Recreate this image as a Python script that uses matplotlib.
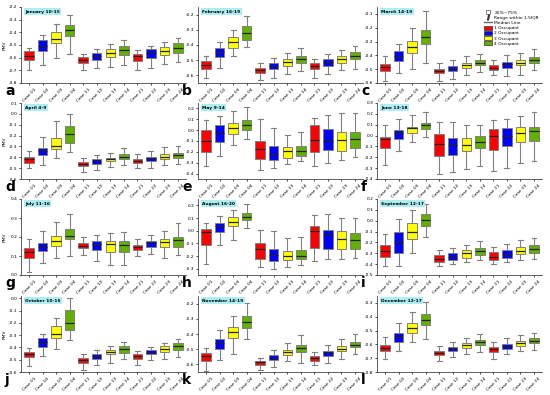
import matplotlib.pyplot as plt
from matplotlib.lines import Line2D
from matplotlib.patches import Patch
from matplotlib.ticker import MultipleLocator, FormatStrFormatter

cases = ["Case 01", "Case 02", "Case 03", "Case 04",
         "Case 11", "Case 12", "Case 13", "Case 14",
         "Case 21", "Case 22", "Case 23", "Case 24"]
periods = ["January 10-15", "February 16-19", "March 14-19",
           "April 4-9", "May 9-14", "June 13-18",
           "July 11-16", "August 16-20", "September 12-17",
           "October 10-15", "November 14-19", "December 12-17"]
letters = ["a", "b", "c", "d", "e", "f", "g", "h", "i", "j", "k", "l"]
occupants = ["1 Occupant", "2 Occupant", "3 Occupant", "4 Occupant"]
box_colors = ["#ff0000", "#0000ff", "#ffff00", "#62b000"]

# one row per period, one column per case
whis_hi = [
    [-0.52, -0.42, -0.335, -0.26, -0.57, -0.53, -0.49, -0.46, -0.54, -0.505, -0.475, -0.445],
    [-0.474, -0.38, -0.30, -0.21, -0.517, -0.485, -0.45, -0.423, -0.49, -0.458, -0.43, -0.404],
    [-0.405, -0.315, -0.205, -0.08, -0.454, -0.43, -0.405, -0.393, -0.43, -0.40, -0.38, -0.356],
    [-0.338, -0.21, -0.068, 0.0, -0.404, -0.383, -0.36, -0.314, -0.374, -0.338, -0.308, -0.30],
    [0.09, 0.13, 0.176, 0.21, 0.106, 0.024, -0.045, -0.015, 0.115, 0.14, 0.16, 0.16],
    [0.10, 0.15, 0.186, 0.22, 0.126, 0.126, 0.10, 0.10, 0.14, 0.156, 0.18, 0.216],
    [0.19, 0.23, 0.28, 0.323, 0.20, 0.213, 0.22, 0.225, 0.19, 0.21, 0.23, 0.274],
    [0.06, 0.115, 0.16, 0.21, 0.008, -0.005, -0.06, -0.05, 0.123, 0.128, 0.097, 0.097],
    [-0.12, 0.02, 0.10, 0.15, -0.27, -0.25, -0.22, -0.19, -0.24, -0.21, -0.18, -0.16],
    [-0.405, -0.29, -0.163, 0.0, -0.457, -0.42, -0.39, -0.357, -0.43, -0.40, -0.363, -0.33],
    [-0.49, -0.375, -0.28, -0.193, -0.555, -0.503, -0.458, -0.407, -0.52, -0.47, -0.43, -0.398],
    [-0.55, -0.446, -0.366, -0.295, -0.61, -0.58, -0.556, -0.527, -0.58, -0.556, -0.532, -0.515],
]
q3 = [
    [-0.55, -0.46, -0.40, -0.34, -0.595, -0.565, -0.535, -0.51, -0.57, -0.535, -0.515, -0.485],
    [-0.506, -0.42, -0.347, -0.277, -0.55, -0.517, -0.495, -0.474, -0.517, -0.495, -0.47, -0.447],
    [-0.466, -0.368, -0.295, -0.22, -0.497, -0.478, -0.454, -0.437, -0.473, -0.45, -0.437, -0.412],
    [-0.40, -0.314, -0.224, -0.113, -0.443, -0.42, -0.404, -0.374, -0.413, -0.40, -0.374, -0.36],
    [0.0, 0.048, 0.07, 0.094, -0.097, -0.142, -0.157, -0.148, 0.048, 0.01, -0.02, -0.015],
    [-0.01, 0.05, 0.08, 0.12, 0.012, -0.018, -0.018, 0.0, 0.057, 0.072, 0.08, 0.08],
    [0.143, 0.17, 0.204, 0.244, 0.17, 0.18, 0.18, 0.178, 0.16, 0.178, 0.187, 0.20],
    [0.013, 0.064, 0.105, 0.136, -0.095, -0.141, -0.159, -0.151, 0.033, 0.008, -0.005, -0.018],
    [-0.22, -0.10, -0.02, 0.06, -0.32, -0.30, -0.27, -0.25, -0.29, -0.27, -0.24, -0.22],
    [-0.434, -0.323, -0.228, -0.094, -0.486, -0.457, -0.423, -0.39, -0.457, -0.423, -0.39, -0.366],
    [-0.526, -0.436, -0.353, -0.283, -0.575, -0.54, -0.503, -0.47, -0.544, -0.51, -0.48, -0.454],
    [-0.605, -0.52, -0.446, -0.38, -0.65, -0.617, -0.593, -0.568, -0.622, -0.60, -0.575, -0.556],
]
medians = [
    [-0.59, -0.505, -0.45, -0.385, -0.615, -0.59, -0.565, -0.54, -0.59, -0.565, -0.545, -0.525],
    [-0.532, -0.445, -0.38, -0.32, -0.565, -0.54, -0.51, -0.49, -0.535, -0.51, -0.49, -0.47],
    [-0.483, -0.405, -0.34, -0.27, -0.515, -0.495, -0.473, -0.454, -0.49, -0.46, -0.454, -0.434],
    [-0.42, -0.345, -0.30, -0.188, -0.458, -0.435, -0.42, -0.40, -0.43, -0.413, -0.40, -0.38],
    [-0.097, -0.03, 0.024, 0.048, -0.173, -0.218, -0.194, -0.188, -0.09, -0.10, -0.09, -0.08],
    [-0.03, 0.02, 0.066, 0.10, -0.078, -0.09, -0.084, -0.055, -0.003, -0.003, 0.027, 0.042],
    [0.12, 0.15, 0.178, 0.204, 0.155, 0.164, 0.164, 0.16, 0.148, 0.17, 0.175, 0.183],
    [-0.013, 0.04, 0.067, 0.11, -0.146, -0.192, -0.197, -0.197, -0.005, -0.038, -0.064, -0.074],
    [-0.28, -0.20, -0.10, 0.01, -0.35, -0.33, -0.30, -0.28, -0.33, -0.31, -0.28, -0.26],
    [-0.45, -0.357, -0.286, -0.20, -0.506, -0.47, -0.437, -0.414, -0.47, -0.437, -0.414, -0.39],
    [-0.548, -0.458, -0.387, -0.324, -0.587, -0.555, -0.52, -0.492, -0.555, -0.526, -0.497, -0.47],
    [-0.624, -0.55, -0.483, -0.422, -0.66, -0.634, -0.605, -0.585, -0.636, -0.612, -0.593, -0.573],
]
q1 = [
    [-0.62, -0.55, -0.485, -0.43, -0.64, -0.62, -0.595, -0.575, -0.63, -0.60, -0.575, -0.56],
    [-0.56, -0.48, -0.42, -0.364, -0.587, -0.56, -0.535, -0.517, -0.557, -0.535, -0.517, -0.49],
    [-0.51, -0.44, -0.385, -0.315, -0.53, -0.515, -0.49, -0.473, -0.507, -0.49, -0.473, -0.454],
    [-0.45, -0.383, -0.323, -0.27, -0.48, -0.458, -0.435, -0.42, -0.45, -0.435, -0.42, -0.404],
    [-0.203, -0.112, -0.036, 0.0, -0.27, -0.273, -0.258, -0.24, -0.203, -0.18, -0.188, -0.164],
    [-0.115, -0.03, 0.02, 0.057, -0.19, -0.175, -0.145, -0.115, -0.13, -0.10, -0.055, -0.048],
    [0.09, 0.125, 0.152, 0.187, 0.143, 0.134, 0.122, 0.122, 0.134, 0.148, 0.146, 0.148],
    [-0.115, -0.01, 0.033, 0.085, -0.223, -0.238, -0.23, -0.223, -0.133, -0.141, -0.141, -0.141],
    [-0.33, -0.30, -0.17, -0.05, -0.38, -0.36, -0.34, -0.32, -0.36, -0.34, -0.31, -0.30],
    [-0.477, -0.394, -0.323, -0.257, -0.523, -0.494, -0.457, -0.443, -0.494, -0.457, -0.437, -0.42],
    [-0.575, -0.497, -0.425, -0.362, -0.605, -0.57, -0.537, -0.52, -0.575, -0.544, -0.515, -0.488],
    [-0.65, -0.58, -0.515, -0.458, -0.678, -0.65, -0.624, -0.605, -0.654, -0.63, -0.61, -0.593],
]
whis_lo = [
    [-0.70, -0.655, -0.60, -0.57, -0.70, -0.68, -0.67, -0.655, -0.70, -0.68, -0.65, -0.635],
    [-0.62, -0.55, -0.474, -0.414, -0.633, -0.615, -0.594, -0.572, -0.62, -0.594, -0.567, -0.557],
    [-0.583, -0.53, -0.497, -0.454, -0.588, -0.57, -0.544, -0.52, -0.54, -0.55, -0.54, -0.507],
    [-0.50, -0.47, -0.41, -0.35, -0.54, -0.515, -0.49, -0.47, -0.50, -0.495, -0.47, -0.458],
    [-0.333, -0.24, -0.136, -0.08, -0.37, -0.345, -0.315, -0.285, -0.33, -0.30, -0.273, -0.25],
    [-0.27, -0.145, -0.055, -0.015, -0.355, -0.34, -0.31, -0.28, -0.33, -0.30, -0.25, -0.235],
    [0.015, 0.064, 0.087, 0.10, 0.105, 0.073, 0.055, 0.055, 0.10, 0.108, 0.09, 0.103],
    [-0.264, -0.115, -0.07, 0.02, -0.287, -0.30, -0.287, -0.27, -0.236, -0.223, -0.223, -0.215],
    [-0.42, -0.42, -0.30, -0.15, -0.42, -0.40, -0.38, -0.36, -0.40, -0.38, -0.36, -0.35],
    [-0.55, -0.466, -0.41, -0.343, -0.58, -0.543, -0.523, -0.494, -0.543, -0.506, -0.494, -0.48],
    [-0.643, -0.57, -0.533, -0.43, -0.638, -0.616, -0.575, -0.59, -0.605, -0.593, -0.564, -0.533],
    [-0.707, -0.65, -0.585, -0.563, -0.72, -0.695, -0.673, -0.654, -0.707, -0.673, -0.65, -0.64],
]
y_ranges = [(-0.8, -0.2), (-0.65, -0.15), (-0.6, -0.05),
            (-0.6, 0.1), (-0.45, 0.25), (-0.4, 0.3),
            (0.0, 0.4), (-0.35, 0.25), (-0.5, 0.2),
            (-0.6, 0.02), (-0.65, -0.15), (-0.8, -0.25)]

W, H = 550, 395
fig = plt.figure(figsize=(5.5, 3.95), dpi=100)
col_left = [21, 198, 377]
row_top = [7, 103, 199, 296]
ax_w, ax_h = 165, 76

for p in range(12):
    r, c = divmod(p, 3)
    ax = fig.add_axes([col_left[c] / W, 1 - (row_top[r] + ax_h) / H, ax_w / W, ax_h / H])
    stats = []
    for k in range(12):
        stats.append(dict(whislo=whis_lo[p][k], q1=q1[p][k], med=medians[p][k],
                          q3=q3[p][k], whishi=whis_hi[p][k], fliers=[]))
    bp = ax.bxp(stats, positions=range(1, 13), widths=0.7, patch_artist=True,
                showfliers=False,
                boxprops=dict(edgecolor="#808080", linewidth=0.7),
                medianprops=dict(color="#222222", linewidth=0.9),
                whiskerprops=dict(color="#808080", linewidth=0.8),
                capprops=dict(color="#808080", linewidth=0.8),
                capwidths=0.35)
    for k, box in enumerate(bp["boxes"]):
        box.set_facecolor(box_colors[k % 4])

    ax.set_xlim(0.4, 12.6)
    ax.set_ylim(*y_ranges[p])
    ax.yaxis.set_major_locator(MultipleLocator(0.1))
    ax.yaxis.set_major_formatter(FormatStrFormatter("%.1f"))
    ax.set_xticks(range(1, 13))
    ax.set_xticklabels(cases, rotation=45, ha="center", va="top")
    ax.tick_params(labelsize=3.2, length=1.5, width=0.5, pad=1)
    ax.tick_params(axis="x", pad=2)
    for s in ["top", "right"]:
        ax.spines[s].set_visible(False)
    for s in ["left", "bottom"]:
        ax.spines[s].set_linewidth(0.6)
        ax.spines[s].set_color("#444444")
    if c == 0:
        ax.set_ylabel("PMV", fontsize=3.2)
        ax.yaxis.set_label_coords(-14.5 / ax_w, 0.5)

    ax.text(0.025, 0.965, periods[p], transform=ax.transAxes, fontsize=3.2,
            fontweight="bold", va="top", ha="left",
            bbox=dict(boxstyle="square,pad=0.3", fc="#aeeef3", ec="none"))

    fig.text((col_left[c] - 16) / W, 1 - (row_top[r] + ax_h + 8) / H, letters[p],
             fontsize=10, fontweight="bold", va="center", ha="left")

    if p == 2:
        handles = [
            Line2D([], [], marker="s", markersize=2.5, markerfacecolor="white",
                   markeredgecolor="#555555", markeredgewidth=0.5, linestyle="none"),
            Line2D([], [], marker="$I$", markersize=3.5, color="#333333", linestyle="none"),
            Line2D([], [], color="#666666", linewidth=1),
        ]
        for col in box_colors:
            handles.append(Patch(facecolor=col, edgecolor="#333333", linewidth=0.5))
        labels = ["25%~75%", "Range within 1.5IQR", "Median Line"] + occupants
        ax.legend(handles, labels, loc="upper right", fontsize=3.2, frameon=False,
                  handlelength=2.0, handleheight=1.0, labelspacing=0.15,
                  handletextpad=0.4, borderaxespad=0.3, bbox_to_anchor=(1.0, 1.0))

fig.savefig("out.png", dpi=100)
